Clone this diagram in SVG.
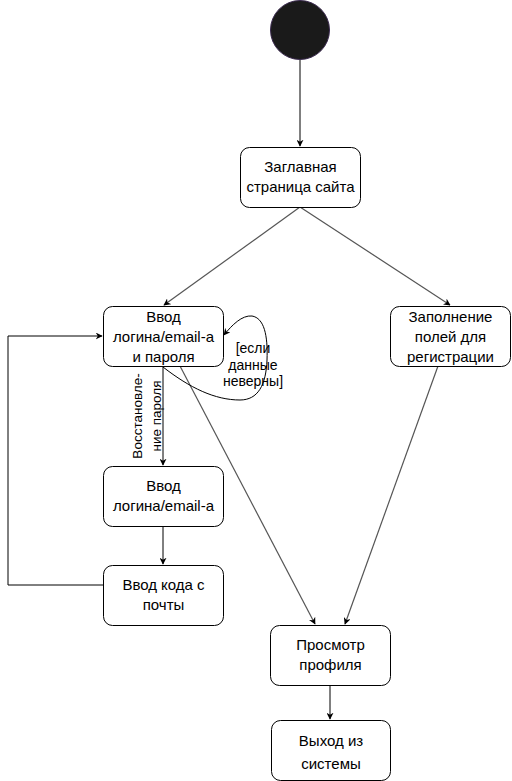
<svg xmlns="http://www.w3.org/2000/svg" width="512" height="781" viewBox="0 0 512 781">
<defs>
<marker id="ah" viewBox="0 0 10 10" refX="9" refY="5" markerWidth="7" markerHeight="7" orient="auto" markerUnits="userSpaceOnUse">
<path d="M0,0 L10,5 L0,10 L3,5 Z" fill="#000"/>
</marker>
<style>
.n{fill:#fff;stroke:#000;stroke-width:1}
.t{font-family:"Liberation Sans",Arial,sans-serif;font-size:15px;fill:#000;text-anchor:middle}
.s{font-family:"Liberation Sans",Arial,sans-serif;font-size:14px;fill:#000;text-anchor:middle}
.r{font-family:"Liberation Sans",Arial,sans-serif;font-size:13.5px;fill:#000;text-anchor:middle}
.c{fill:none;stroke:#000;stroke-width:1}
.g{fill:none;stroke:#555;stroke-width:1.2}
</style>
</defs>
<rect width="512" height="781" fill="#fff"/>
<g id="connectors">
<path class="c" d="M300,60 L300,146" marker-end="url(#ah)"/>
<path class="g" d="M300,207 L164,305" marker-end="url(#ah)"/>
<path class="g" d="M300,207 L450,305" marker-end="url(#ah)"/>
<path class="g" d="M180,366 L315,624" marker-end="url(#ah)"/>
<path class="g" d="M438,366 L345,624" marker-end="url(#ah)"/>
<path class="c" d="M163,366 L163,465" marker-end="url(#ah)"/>
<path class="c" d="M163,526 L163,564" marker-end="url(#ah)"/>
<path class="c" d="M103,585 L8,585 L8,336 L102,336" marker-end="url(#ah)"/>
<path class="c" d="M163,367 C190,388 215,400 240,400 C258,400 266,385 267,360 C268,335 264,318 252,316 C242,315 232,325 224,335" marker-end="url(#ah)"/>
<path class="c" d="M330,685 L330,719" marker-end="url(#ah)"/>
<text class="s"><tspan x="253" y="353">[если</tspan><tspan x="253" y="370">данные</tspan><tspan x="253" y="386">неверны]</tspan></text>
<text class="r" transform="translate(147,416) rotate(-90)"><tspan x="0" y="-5">Восстановле-</tspan><tspan x="0" y="14">ние пароля</tspan></text>
</g>
<g id="start">
<circle cx="300" cy="30" r="29.5" fill="#1a1a1a" stroke="#3b2a4f" stroke-width="1"/>
</g>
<g id="main">
<rect class="n" x="240.5" y="147.5" width="120" height="60" rx="9"/>
<text class="t"><tspan x="300.5" y="172">Заглавная</tspan><tspan x="300.5" y="192">страница сайта</tspan></text>
</g>
<g id="login">
<rect class="n" x="103.5" y="306.5" width="120" height="60" rx="9"/>
<text class="t"><tspan x="163.5" y="322">Ввод</tspan><tspan x="163.5" y="342">логина/email-а</tspan><tspan x="163.5" y="362">и пароля</tspan></text>
</g>
<g id="register">
<rect class="n" x="390.5" y="306.5" width="120" height="60" rx="9"/>
<text class="t"><tspan x="450.5" y="322">Заполнение</tspan><tspan x="450.5" y="342">полей для</tspan><tspan x="450.5" y="362">регистрации</tspan></text>
</g>
<g id="login2">
<rect class="n" x="103.5" y="466.5" width="120" height="60" rx="9"/>
<text class="t"><tspan x="163.5" y="491">Ввод</tspan><tspan x="163.5" y="511">логина/email-а</tspan></text>
</g>
<g id="code">
<rect class="n" x="103.5" y="565.5" width="120" height="60" rx="9"/>
<text class="t"><tspan x="163.5" y="590">Ввод кода с</tspan><tspan x="163.5" y="610">почты</tspan></text>
</g>
<g id="profile">
<rect class="n" x="270.5" y="625.5" width="120" height="60" rx="9"/>
<text class="t"><tspan x="330.5" y="650">Просмотр</tspan><tspan x="330.5" y="670">профиля</tspan></text>
</g>
<g id="logout">
<rect class="n" x="271.5" y="720.5" width="119" height="60" rx="9"/>
<text class="t"><tspan x="331" y="746">Выход из</tspan><tspan x="331" y="769">системы</tspan></text>
</g>
</svg>
